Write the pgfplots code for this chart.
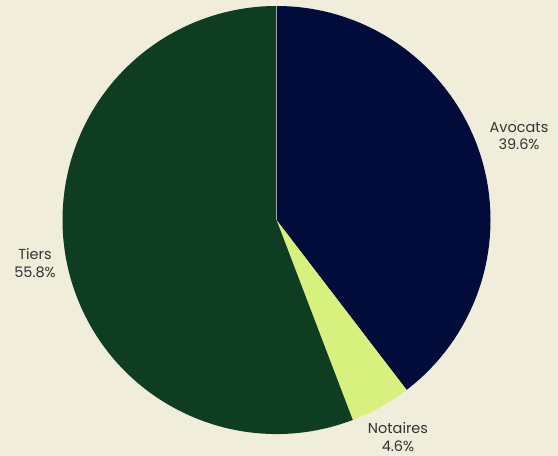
\documentclass[border=0pt]{standalone}
\usepackage{pgfplots}
\pgfplotsset{compat=1.18}
\usepackage{pgfplotstable}
\usepackage{fontspec}
\setmainfont{Poppins}
\definecolor{bg}{HTML}{F0EDDB}
\definecolor{cAvocats}{HTML}{010C3A}
\definecolor{cNotaires}{HTML}{D8F07D}
\definecolor{cTiers}{HTML}{0F3D22}
\definecolor{txt}{HTML}{333333}
\pgfplotstableread{
label value
Avocats 39.6
Notaires 4.6
Tiers 55.8
}\piedata
\begin{document}
\begin{tikzpicture}
\fill[bg] (0pt,0pt) rectangle (558pt,456pt);
\useasboundingbox (0pt,0pt) rectangle (558pt,456pt);
\pgfplotstablegetelem{0}{value}\of\piedata \let\va\pgfplotsretval
\pgfplotstablegetelem{1}{value}\of\piedata \let\vb\pgfplotsretval
\pgfplotstablegetelem{2}{value}\of\piedata \let\vc\pgfplotsretval
\pgfmathsetmacro{\aA}{90}
\pgfmathsetmacro{\aB}{90-3.6*\va}
\pgfmathsetmacro{\aC}{\aB-3.6*\vb}
\pgfmathsetmacro{\aD}{\aC-3.6*\vc}
\begin{axis}[
  at={(276.5pt,236pt)}, anchor=center,
  width=428pt, height=428pt, scale only axis,
  xmin=-1, xmax=1, ymin=-1, ymax=1,
  hide axis, clip=false,
]
\fill[cAvocats] (axis cs:0,0) -- (axis cs:{cos(\aA)},{sin(\aA)}) arc[start angle=\aA, end angle=\aB, radius=214pt] -- cycle;
\fill[cNotaires] (axis cs:0,0) -- (axis cs:{cos(\aB)},{sin(\aB)}) arc[start angle=\aB, end angle=\aC, radius=214pt] -- cycle;
\fill[cTiers] (axis cs:0,0) -- (axis cs:{cos(\aC)},{sin(\aC)}) arc[start angle=\aC, end angle=\aD, radius=214pt] -- cycle;
\draw[gray!70, line width=0.4pt] (axis cs:0,0) -- (axis cs:0,1);
\end{axis}
\node[txt, align=center, font=\fontsize{14.5}{17.5}\selectfont] at (519pt,320pt) {Avocats\\39.6\%};
\node[txt, align=center, font=\fontsize{14.5}{17.5}\selectfont] at (398pt,19pt) {Notaires\\4.6\%};
\node[txt, align=center, font=\fontsize{14.5}{17.5}\selectfont] at (35pt,193pt) {Tiers\\55.8\%};
\end{tikzpicture}
\end{document}
